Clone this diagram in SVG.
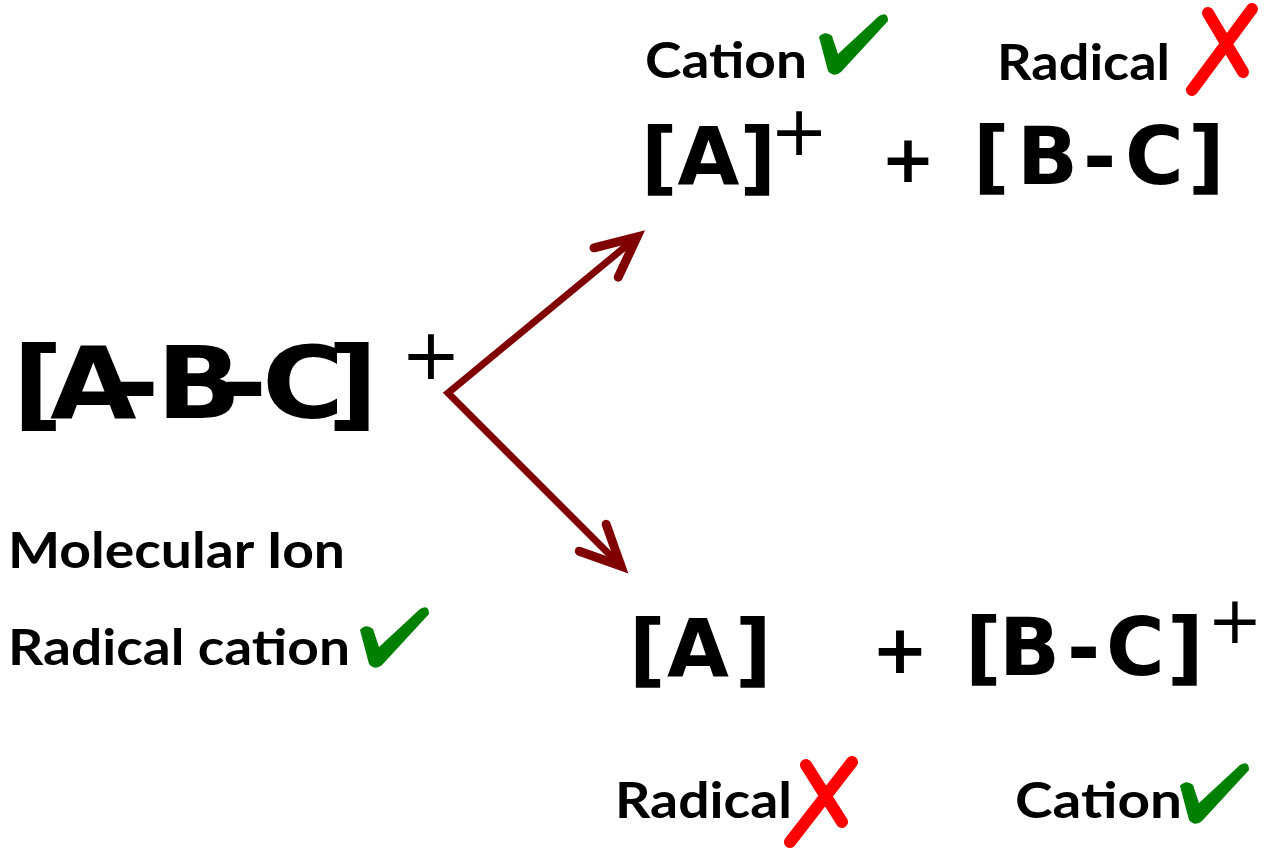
<svg xmlns="http://www.w3.org/2000/svg" width="1269" height="850" viewBox="0 0 1269 850">
<style>
.f{font-family:"DejaVu Sans","Liberation Sans",sans-serif;font-weight:bold;fill:#000}
.p{font-family:"DejaVu Sans","Liberation Sans",sans-serif;font-weight:normal;fill:#000;text-anchor:middle}
.pb{font-family:"DejaVu Sans","Liberation Sans",sans-serif;font-weight:bold;fill:#000;text-anchor:middle}
.l{font-family:Lato,"Open Sans","Liberation Sans",sans-serif;font-weight:bold;font-size:49px;fill:#000}
.chk{fill:#008000}
.x{fill:none;stroke:#ff0000;stroke-width:12;stroke-linecap:round}
.arr{fill:none;stroke:#800000;stroke-width:7;stroke-linejoin:miter}
</style>
<defs>
<path id="check" d="M -17,-34 Q -11,-41 -4,-35 L 2,-17 L 43,-55 Q 52,-60 52,-50 L 5,1 Q -2,7 -8,0 Z"/>
<marker id="head" markerUnits="userSpaceOnUse" markerWidth="100" markerHeight="100" refX="0" refY="0" viewBox="-60 -50 100 100" orient="auto-start-reverse" overflow="visible">
<path d="M -40,-19 L 0,0 L -40,19" fill="none" stroke="#800000" stroke-width="9" stroke-linecap="round" stroke-linejoin="miter"/>
</marker>
</defs>

<g id="molecular-ion">
<text class="f" font-size="100" transform="scale(1.12,1)" x="11 44.6 101 139.5 197 234 292" y="418">[A-B-C]</text>
<text class="p" font-size="72" x="431" y="379">+</text>
<text class="l" x="8" y="568" textLength="337" lengthAdjust="spacingAndGlyphs">Molecular Ion</text>
<text class="l" x="8" y="665" textLength="342" lengthAdjust="spacingAndGlyphs">Radical cation</text>
<use href="#check" class="chk" transform="translate(377,664)"/>
</g>

<g id="top-products">
<text class="l" x="645" y="78" textLength="162" lengthAdjust="spacingAndGlyphs">Cation</text>
<use href="#check" class="chk" transform="translate(836,71)"/>
<text class="l" x="997" y="80" textLength="173" lengthAdjust="spacingAndGlyphs">Radical</text>
<path class="x" d="M 1208,13 L 1243,72 M 1252,9 L 1192,90"/>
<text class="f" font-size="80" x="641" y="185">[A]</text>
<text class="p" font-size="70" x="799" y="155">+</text>
<text class="pb" font-size="65" x="908" y="182">+</text>
<text class="f" font-size="80" x="973 1017 1083 1125 1188" y="184">[B-C]</text>
</g>

<g id="bottom-products">
<text class="f" font-size="80" x="629 667 735" y="677">[A]</text>
<text class="pb" font-size="68" x="900" y="673">+</text>
<text class="f" font-size="80" x="965 999 1067 1106 1167" y="675">[B-C]</text>
<text class="p" font-size="66" x="1235" y="643">+</text>
<text class="l" x="615" y="818" textLength="177" lengthAdjust="spacingAndGlyphs">Radical</text>
<path class="x" d="M 806,765 L 842,822 M 852,762 L 790,842"/>
<text class="l" x="1015" y="818" textLength="167" lengthAdjust="spacingAndGlyphs">Cation</text>
<use href="#check" class="chk" transform="translate(1197,820)"/>
</g>

<g id="connectors">
<path class="arr" d="M 621,566 L 448,393 L 637,237" marker-start="url(#head)" marker-end="url(#head)"/>
</g>
</svg>
